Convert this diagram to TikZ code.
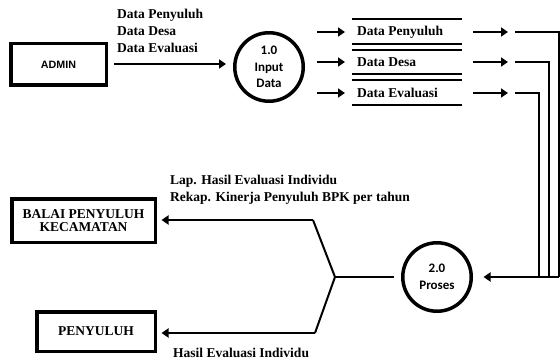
\documentclass[tikz,border=0pt]{standalone}
\usepackage{fontspec}
\setmainfont{Liberation Serif}
\newfontfamily\calfont{Carlito}
\newfontfamily\arialfont{Liberation Sans}
\usetikzlibrary{arrows.meta}
\begin{document}
\begin{tikzpicture}[x=1pt,y=-1pt,
  ent/.style={draw, line width=3.5pt, inner sep=0pt, align=center,
    font=\fontsize{13.5}{13}\selectfont\bfseries},
  proc/.style={draw, circle, line width=3.5pt, minimum size=68.5pt, inner sep=0pt, align=center,
    font=\calfont\bfseries\fontsize{13}{16.5}\selectfont},
  lbl/.style={font=\fontsize{13.5}{17}\selectfont\bfseries, align=left, inner sep=0pt, anchor=west},
  flow/.style={line width=2pt, -{Triangle[length=7pt,width=9pt]}},
  ln/.style={line width=2pt},
  storeline/.style={line width=2.5pt}
]
\useasboundingbox[fill=white] (0,0) rectangle (560,361);

% entities
\node[ent, minimum width=95.5pt, minimum height=41.5pt, font=\arialfont\bfseries\fontsize{10.7}{12}\selectfont] (admin) at (58.5,64.5) {ADMIN};
\node[ent, minimum width=143.5pt, minimum height=43.5pt] (balai) at (83.5,220.5) {BALAI PENYULUH\\KECAMATAN};
\node[ent, minimum width=118.5pt, minimum height=39.5pt] (peny) at (96,331.5) {PENYULUH};

% processes
\node[proc] (p1) at (269,67) {1.0\\Input\\Data};
\node[proc] (p2) at (437,277) {2.0\\Proses};

% labels
\node[lbl] (l1) at (117,31) {Data Penyuluh\\Data Desa\\Data Evaluasi};
\node[lbl] (l2) at (170,189.5) {Lap. Hasil Evaluasi Individu\\Rekap. Kinerja Penyuluh BPK per tahun};
\node[lbl] (l3) at (173,353) {Hasil Evaluasi Individu};

% data stores
\foreach \y in {19,44,50,74,80,105} \draw[storeline] (352,\y) -- (462,\y);
\node[lbl] (s1) at (357,32) {Data Penyuluh};
\node[lbl] (s2) at (357,62) {Data Desa};
\node[lbl] (s3) at (357,93) {Data Evaluasi};

% admin -> p1
\draw[flow, line width=2.5pt, shorten <=5.75pt, shorten >=7pt] (admin.east |- 0,64) -- (p1.west |- 0,64);

% p1 -> stores
\foreach \i/\y in {1/32,2/62,3/93}{
  \coordinate (ia\i) at (317,\y);
  \coordinate (ib\i) at (345,\y);
  \draw[flow] (ia\i) -- (ib\i);
  \coordinate (oa\i) at (473,\y);
  \coordinate (ob\i) at (508,\y);
  \draw[flow] (oa\i) -- (ob\i);
}
\coordinate (j) at (559,277);
\draw[ln] (515,32) -| (559,277);
\draw[ln] (515,62) -| (549,277);
\draw[ln] (515,93) -| (539,277);
\draw[flow, shorten >=10.5pt] (j) -- (p2.east);

% p2 -> outputs
\coordinate (fork) at (335,277);
\coordinate (ft) at (313,220);
\coordinate (fb) at (315,333);
\draw[ln, shorten <=7pt] (p2.west) -- (fork);
\draw[ln] (fork) -- (ft);
\draw[ln] (fork) -- (fb);
\draw[flow, shorten >=4.5pt] (ft) -- (balai.east |- ft);
\draw[flow, shorten >=4.5pt] (fb) -- (peny.east |- fb);
\end{tikzpicture}
\end{document}
